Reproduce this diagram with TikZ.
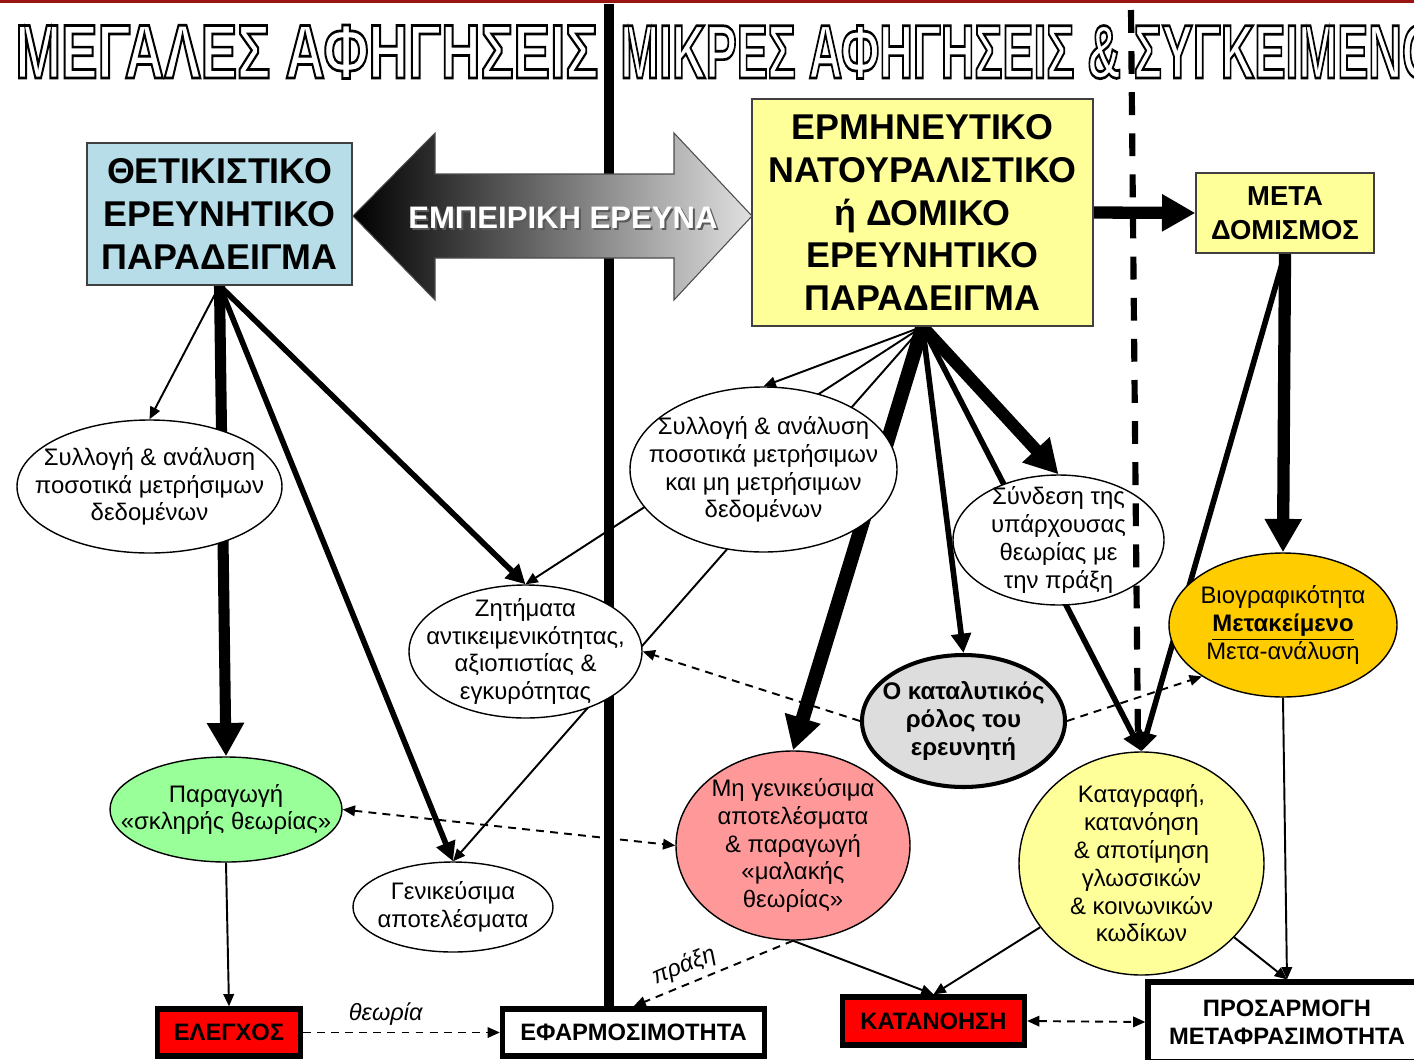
\documentclass[tikz,border=0pt]{standalone}
\usepackage{fontspec}
\setmainfont{Liberation Sans}
\usetikzlibrary{arrows.meta,shapes.geometric,calc}
\definecolor{boxblue}{RGB}{183,222,232}
\definecolor{lyellow}{RGB}{255,255,153}
\definecolor{gold}{RGB}{255,204,0}
\definecolor{lgreen}{RGB}{153,255,153}
\definecolor{lpink}{RGB}{255,153,153}
\definecolor{lgrey}{RGB}{221,221,221}
\definecolor{darkred}{RGB}{155,20,20}
\pgfdeclarelayer{back}
\pgfdeclarelayer{front}
\pgfsetlayers{back,main,front}
\newcommand{\pxu}{0.02cm}
\newcommand{\outlinetext}[1]{\special{pdf:literal direct 1 Tr 1.5 w}#1\special{pdf:literal direct 0 Tr}}
\begin{document}
\begin{tikzpicture}[x=0.02cm,y=-0.02cm,
  ell/.style={ellipse, draw, line width=0.8pt, fill=white, inner xsep=-80pt, inner ysep=-60pt, align=center, font=\fontsize{13.6}{15.8}\selectfont},
  bigbox/.style={rectangle, draw=black!75, line width=0.7pt, inner sep=0pt, align=center, font=\bfseries\fontsize{20.4}{24.3}\selectfont},
  botbox/.style={rectangle, draw, line width=3pt, inner sep=0pt, align=center, font=\bfseries\fontsize{13.5}{15.9}\selectfont},
  thinarrow/.style={line width=1.1pt, -{Triangle[length=7pt,width=6pt]}},
  medarrow/.style={line width=3.2pt, -{Triangle[length=11pt,width=11pt]}},
  heavyarrow/.style={line width=7pt, -{Triangle[length=19pt,width=20pt]}},
  dasharrow/.style={line width=1.1pt, dash pattern=on 4.5pt off 3.5pt, -{Triangle[length=7pt,width=6pt]}},
  titlestyle/.style={anchor=base west, inner sep=0pt, text=black, font=\bfseries\fontsize{42}{42}\selectfont},
  lbl/.style={font=\itshape\fontsize{13.4}{15}\selectfont}
]
\useasboundingbox (0,0) rectangle (1414,1059);

% top rule and title
\coordinate (ruleL) at (0,1.5);
\coordinate (ruleR) at (1414,1.5);
\draw[darkred, line width=1.8pt] (ruleL) -- (ruleR);
\node[titlestyle] (title1) at (15,78) {\resizebox{11.66cm}{1.06cm}{\outlinetext{ΜΕΓΑΛΕΣ ΑΦΗΓΗΣΕΙΣ}}};
\node[titlestyle] (title2) at (620,78) {\resizebox{16.36cm}{1.06cm}{\outlinetext{ΜΙΚΡΕΣ ΑΦΗΓΗΣΕΙΣ \& ΣΥΓΚΕΙΜΕΝΟ}}};

% boxes
\node[bigbox, fill=boxblue, minimum width=265*\pxu, minimum height=142*\pxu] (thet) at (219.5,214) {ΘΕΤΙΚΙΣΤΙΚΟ\\ΕΡΕΥΝΗΤΙΚΟ\\ΠΑΡΑΔΕΙΓΜΑ};
\node[bigbox, fill=lyellow, minimum width=341*\pxu, minimum height=227*\pxu] (erm) at (922.5,212.5) {ΕΡΜΗΝΕΥΤΙΚΟ\\ΝΑΤΟΥΡΑΛΙΣΤΙΚΟ\\ή ΔΟΜΙΚΟ\\ΕΡΕΥΝΗΤΙΚΟ\\ΠΑΡΑΔΕΙΓΜΑ};
\node[bigbox, fill=lyellow, font=\bfseries\fontsize{15.6}{19.3}\selectfont, minimum width=178*\pxu, minimum height=80*\pxu] (meta) at (1285,213) {ΜΕΤΑ\\ΔΟΜΙΣΜΟΣ};

% double arrow
\path[draw=black!70, line width=0.6pt, left color=black, right color=black!12]
  (353,216) -- (435,133) -- (435,174) -- (674,174) -- (674,133) -- (752,216)
  -- (674,300) -- (674,258) -- (435,258) -- (435,300) -- cycle;
\node[text=black!65, font=\bfseries\fontsize{17.7}{20}\selectfont] (empshadow) at (565,220) {ΕΜΠΕΙΡΙΚΗ ΕΡΕΥΝΑ};
\node[text=white, font=\bfseries\fontsize{17.7}{20}\selectfont] (emptext) at (563,218) {ΕΜΠΕΙΡΙΚΗ ΕΡΕΥΝΑ};

% ellipses
\node[ell, minimum width=265*\pxu, minimum height=133*\pxu] (syl1) at (149.5,486.5) {Συλλογή \& ανάλυση\\ποσοτικά μετρήσιμων\\δεδομένων};
\node[ell, minimum width=267*\pxu, minimum height=165*\pxu] (syl2) at (763.5,469.5) {Συλλογή \& ανάλυση\\ποσοτικά μετρήσιμων\\και μη μετρήσιμων\\δεδομένων};
\node[ell, minimum width=211*\pxu, minimum height=130*\pxu] (synd) at (1058.5,540) {Σύνδεση της\\υπάρχουσας\\θεωρίας με\\την πράξη};
\node[ell, minimum width=233*\pxu, minimum height=133*\pxu] (zit) at (525.5,651.5) {Ζητήματα\\αντικειμενικότητας,\\αξιοπιστίας \&\\εγκυρότητας};
\node[ell, fill=gold, minimum width=228*\pxu, minimum height=144*\pxu] (bio) at (1283,625) {Βιογραφικότητα\\\textbf{\underline{Μετακείμενο}}\\Μετα-ανάλυση};
\node[ell, fill=lgrey, line width=2.3pt, font=\bfseries\fontsize{13.7}{15.8}\selectfont, minimum width=203*\pxu, minimum height=132*\pxu] (catal) at (963.5,721) {Ο καταλυτικός\\ρόλος του\\ερευνητή};
\node[ell, fill=lgreen, minimum width=232*\pxu, minimum height=105*\pxu] (parag) at (226,809.5) {Παραγωγή\\«σκληρής θεωρίας»};
\node[ell, minimum width=200*\pxu, minimum height=90*\pxu] (gen) at (453,907) {Γενικεύσιμα\\αποτελέσματα};
\node[ell, fill=lpink, minimum width=234*\pxu, minimum height=189*\pxu] (mhgen) at (793,845.5) {Μη γενικεύσιμα\\αποτελέσματα\\\& παραγωγή\\«μαλακής\\θεωρίας»};
\node[ell, fill=lyellow, minimum width=245*\pxu, minimum height=223*\pxu] (katag) at (1141.5,863.5) {Καταγραφή,\\κατανόηση\\\& αποτίμηση\\γλωσσικών\\\& κοινωνικών\\κωδίκων};

% bottom boxes
\node[botbox, fill=red, minimum width=143*\pxu, minimum height=47*\pxu] (eleg) at (229,1032.5) {ΕΛΕΓΧΟΣ};
\node[botbox, fill=white, minimum width=262*\pxu, minimum height=47*\pxu] (efar) at (633.5,1032.5) {ΕΦΑΡΜΟΣΙΜΟΤΗΤΑ};
\node[botbox, fill=red, minimum width=182*\pxu, minimum height=48*\pxu] (katan) at (933.5,1021) {ΚΑΤΑΝΟΗΣΗ};
\node[botbox, fill=white, minimum width=278*\pxu, minimum height=80*\pxu] (pros) at (1287,1022) {ΠΡΟΣΑΡΜΟΓΗ\\ΜΕΤΑΦΡΑΣΙΜΟΤΗΤΑ};

% connectors
\coordinate (bartop) at (609,4);
\begin{pgfonlayer}{back}
\draw[line width=5.7pt] (bartop) -- (bartop |- efar.north);
\draw[thinarrow] (thet.south) -- (syl1.north);
\draw[heavyarrow, line width=6.3pt] (thet.south) -- (parag.north);
\draw[medarrow] (thet.south) -- (gen.north);
\draw[medarrow] (thet.south) -- (zit.north);
\draw[thinarrow] (erm.south) -- (syl2.north);
\draw[thinarrow] (erm.south) -- (zit.north);
\draw[thinarrow] (erm.south) -- (gen.north);
\draw[heavyarrow, line width=8pt] (erm.south) -- (mhgen.north);
\draw[medarrow] (erm.south) -- (catal.north);
\draw[medarrow] (erm.south) -- (katag.north);
\draw[heavyarrow] (erm.south) -- (synd.north);
\draw[heavyarrow] (erm.east) -- (meta.west);
\draw[heavyarrow] (meta.south) -- (bio.north);
\draw[medarrow] (meta.south) -- (katag.north);
\draw[thinarrow] (bio.south) -- (pros.north);
\draw[thinarrow] (parag.south) -- (eleg.north);
\draw[thinarrow] (mhgen.south) -- (katan.north);
\draw[thinarrow] (katag) -- (katan.north);
\draw[thinarrow] (katag) -- (pros.north);
\draw[dasharrow] (eleg.east) -- node[pos=0.42, above, lbl] (theolbl) {θεωρία} (efar.west);
\draw[dasharrow] (mhgen.south) -- node[pos=0.64, sloped, above, lbl] (praxlbl) {πράξη} (efar.north);
\draw[dasharrow, {Triangle[length=7pt,width=6pt]}-{Triangle[length=7pt,width=6pt]}] (katan.east) -- (pros.west);
\draw[dasharrow, {Triangle[length=7pt,width=6pt]}-{Triangle[length=7pt,width=6pt]}] (parag.east) -- (mhgen.west);
\draw[dasharrow] (catal.west) -- (zit.east);
\draw[dasharrow] (catal.east) -- (bio.south west);
\end{pgfonlayer}

% dashed divider
\coordinate (dtop) at (1131,10);
\coordinate (dbot) at (1138,745);
\begin{pgfonlayer}{front}
\draw[line width=3.5pt, dash pattern=on 13pt off 10.4pt] (dtop) -- (dbot);
\end{pgfonlayer}
\end{tikzpicture}
\end{document}
